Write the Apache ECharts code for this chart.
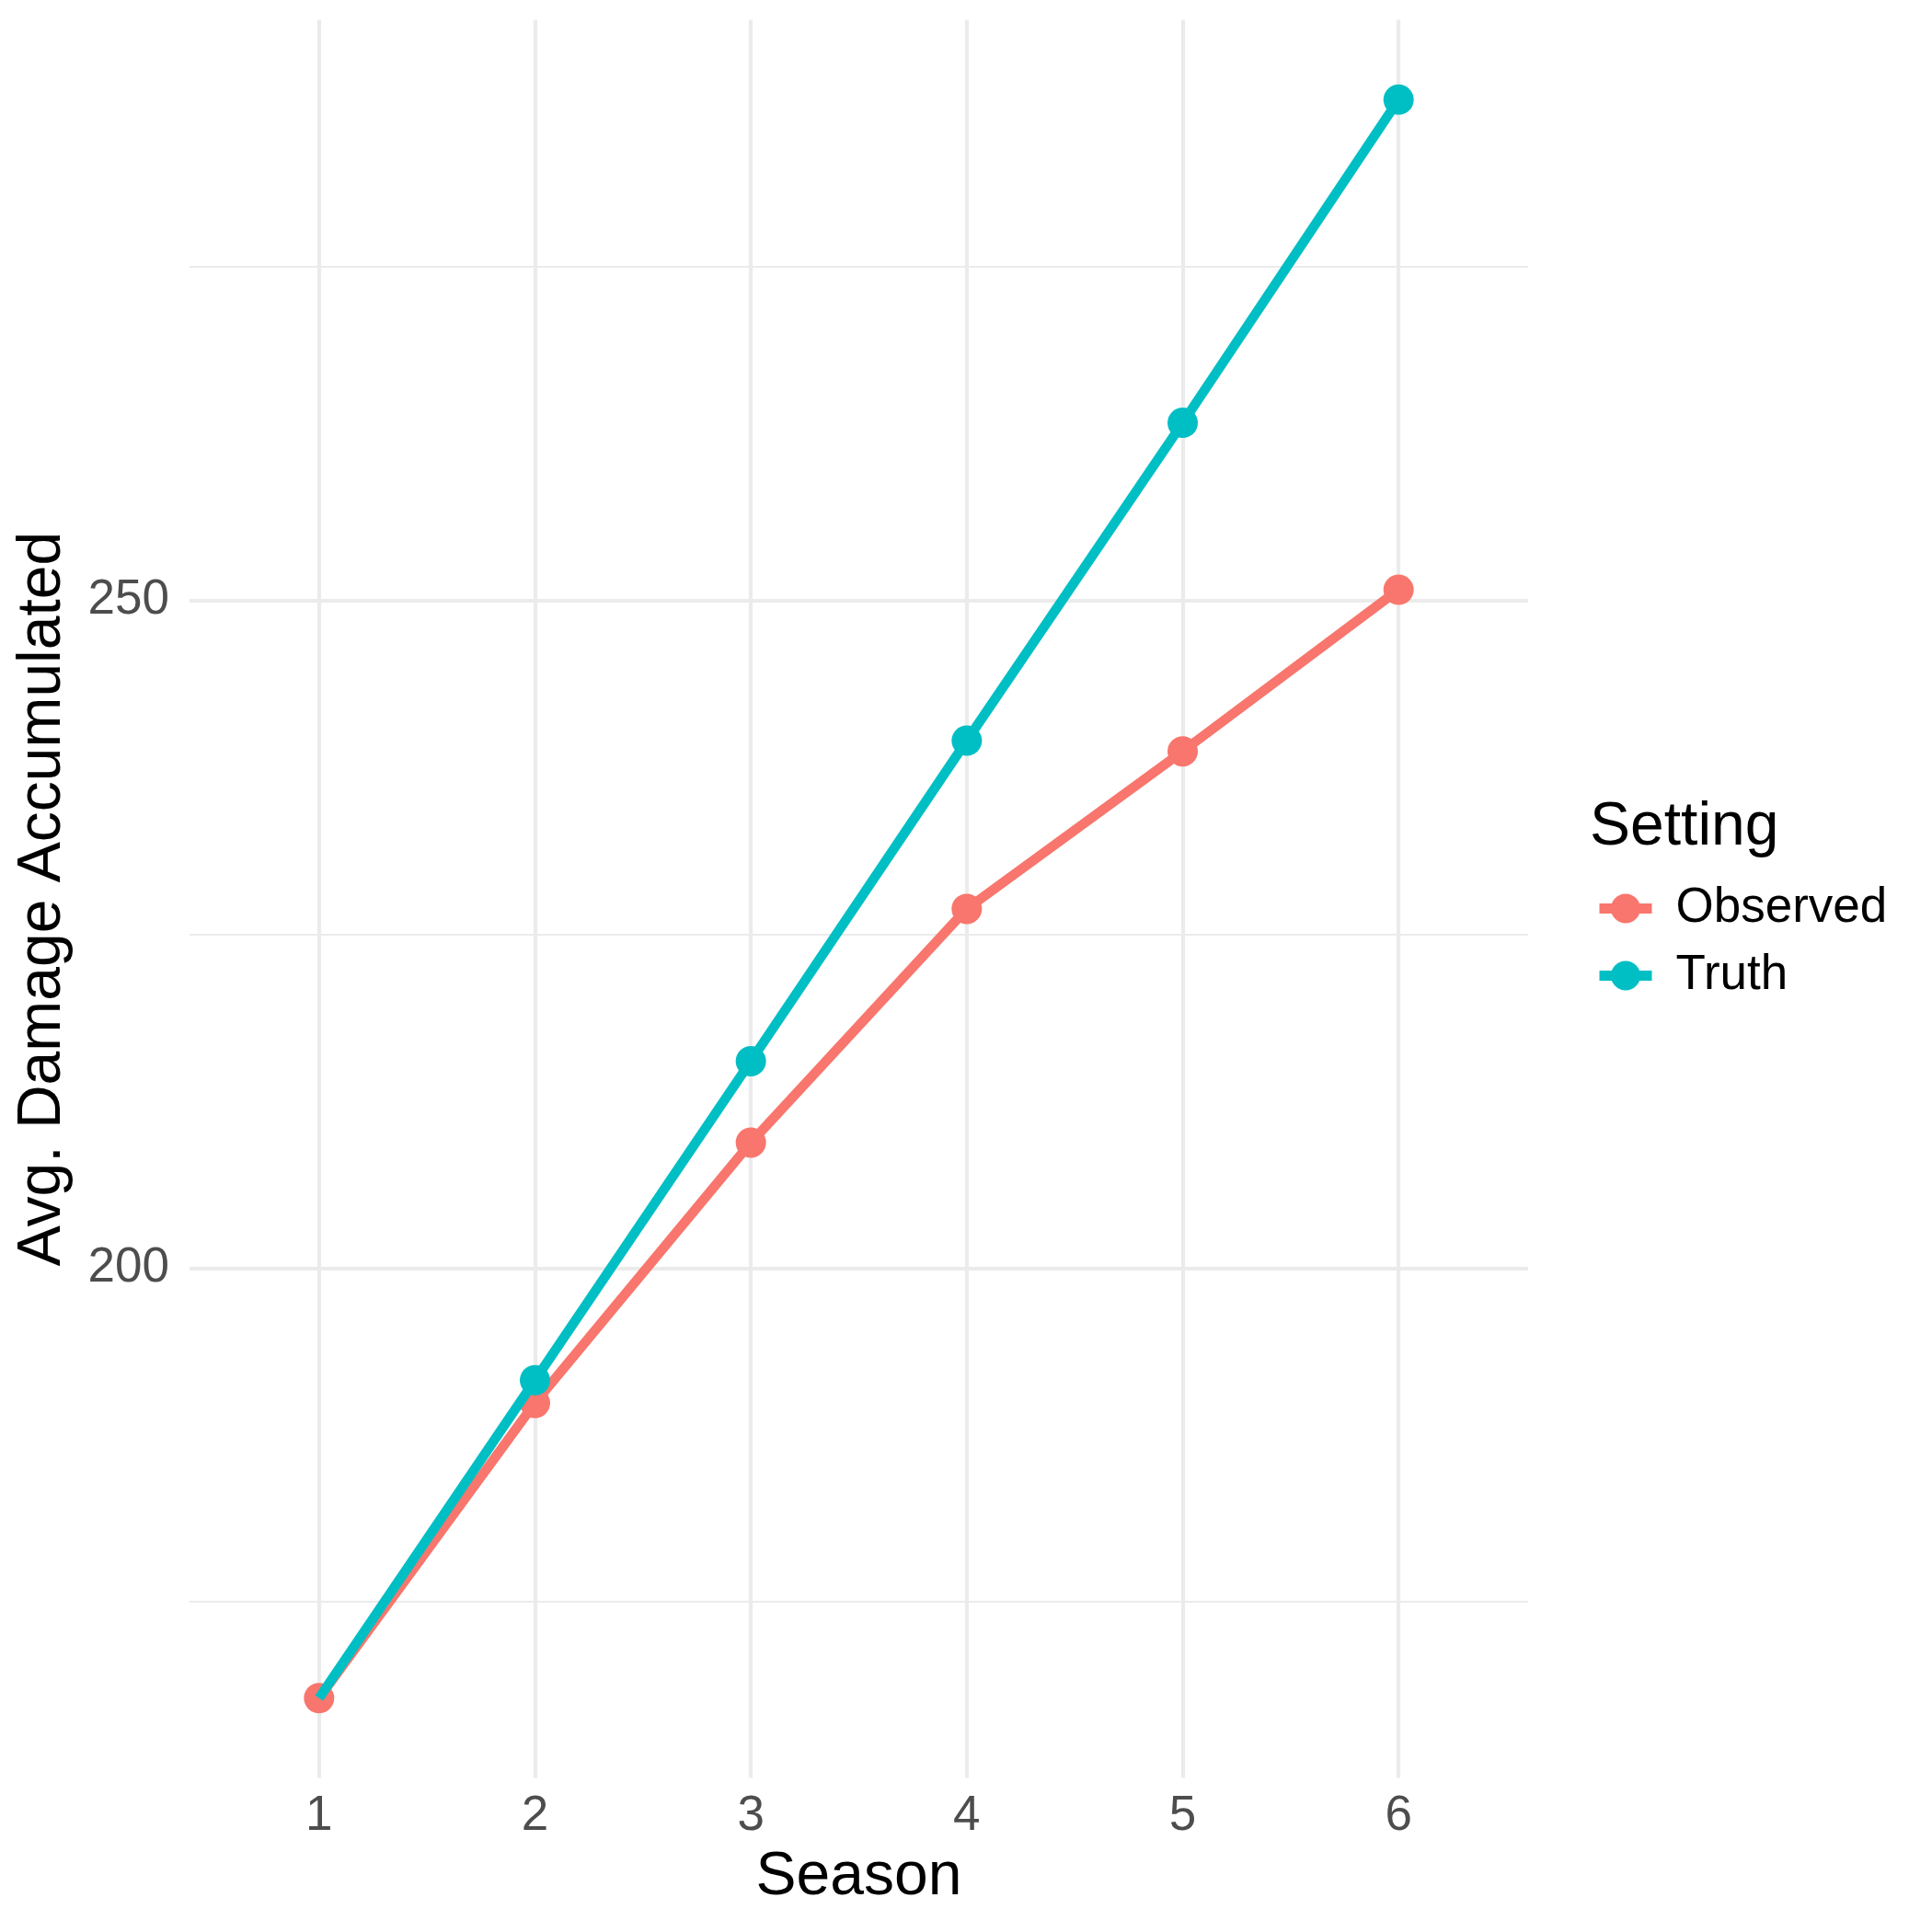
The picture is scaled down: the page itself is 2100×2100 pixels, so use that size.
<!DOCTYPE html>
<html>
<head>
<meta charset="utf-8">
<script src="https://cdn.jsdelivr.net/npm/echarts@6/dist/echarts.min.js"></script>
<style>
  html, body { margin: 0; padding: 0; background: #fff; }
  #chart { width: 2100px; height: 2100px; }
</style>
</head>
<body>
<div id="chart"></div>
<script>
// values
const seasons = [1, 2, 3, 4, 5, 6];
const observed = [167.8, 189.9, 209.4, 226.9, 238.7, 250.8];
const truth = [167.8, 191.6, 215.5, 239.5, 263.3, 287.5];
const yMajorTicks = [200, 250];
const yMinorTicks = [175, 225, 275];

const FONT = 'Liberation Sans';
const RED = '#F8766D';
const TEAL = '#00BFC4';
const GRID = '#EBEBEB';

// ggplot style expansion: 5% on continuous y, 0.6 on discrete x
const all = observed.concat(truth);
const lo = Math.min(...all), hi = Math.max(...all);
const pad = (hi - lo) * 0.05;
const yMin = lo - pad, yMax = hi + pad;
const xMin = seasons[0] - 0.6, xMax = seasons[seasons.length - 1] + 0.6;

const pairs = vals => seasons.map((s, i) => [s, vals[i]]);

const chart = echarts.init(document.getElementById('chart'), null, { renderer: 'canvas' });

chart.setOption({
  animation: false,
  backgroundColor: '#fff',
  textStyle: { fontFamily: FONT },
  grid: { left: 206, right: 439, top: 21.5, bottom: 167.4, containLabel: false },
  title: {
    text: 'Setting',
    left: 1728,
    top: 867,
    padding: 0,
    textStyle: { fontFamily: FONT, fontSize: 66, fontWeight: 'normal', color: '#000', lineHeight: 66 }
  },
  legend: {
    orient: 'vertical',
    left: 1733,
    top: 961,
    padding: 0,
    itemWidth: 57,
    itemHeight: 40,
    itemGap: 20,
    lineStyle: { width: 11 },
    textStyle: { fontFamily: FONT, fontSize: 53, color: '#000', lineHeight: 53, padding: [0, 0, 0, 21] },
    data: ['Observed', 'Truth']
  },
  xAxis: {
    type: 'value',
    min: xMin,
    max: xMax,
    name: 'Season',
    nameLocation: 'middle',
    nameGap: 75,
    nameTextStyle: { fontFamily: FONT, fontSize: 66, color: '#000' },
    axisLine: { show: false },
    axisTick: { show: false, customValues: seasons },
    axisLabel: { customValues: seasons, fontFamily: FONT, fontSize: 53, color: '#4D4D4D', margin: 15 },
    splitLine: { show: true, lineStyle: { color: GRID, width: 4.2 } }
  },
  yAxis: [
    {
      type: 'value',
      min: yMin,
      max: yMax,
      name: 'Avg. Damage Accumulated',
      nameLocation: 'middle',
      nameGap: 126,
      nameTextStyle: { fontFamily: FONT, fontSize: 66, color: '#000' },
      axisLine: { show: false },
      axisTick: { show: false, customValues: yMajorTicks },
      axisLabel: { customValues: yMajorTicks, fontFamily: FONT, fontSize: 53, color: '#4D4D4D', margin: 22 },
      splitLine: { show: true, lineStyle: { color: GRID, width: 4.2 } }
    },
    {
      type: 'value',
      min: yMin,
      max: yMax,
      position: 'left',
      axisLine: { show: false },
      axisTick: { show: false, customValues: yMinorTicks },
      axisLabel: { show: false, customValues: yMinorTicks },
      splitLine: { show: true, lineStyle: { color: GRID, width: 2.2 } }
    }
  ],
  series: [
    {
      name: 'Observed',
      type: 'line',
      z: 2,
      data: pairs(observed),
      color: RED,
      symbol: 'circle',
      symbolSize: 33,
      lineStyle: { width: 10.5, color: RED },
      itemStyle: { color: RED },
      clip: false
    },
    {
      name: 'Truth',
      type: 'line',
      z: 3,
      data: pairs(truth),
      color: TEAL,
      symbol: 'circle',
      // the first Truth point sits under the Observed one in the reference
      symbolSize: (v, p) => (p.dataIndex === 0 ? 0 : 33),
      lineStyle: { width: 10.5, color: TEAL },
      itemStyle: { color: TEAL },
      clip: false
    }
  ]
});
</script>
</body>
</html>
